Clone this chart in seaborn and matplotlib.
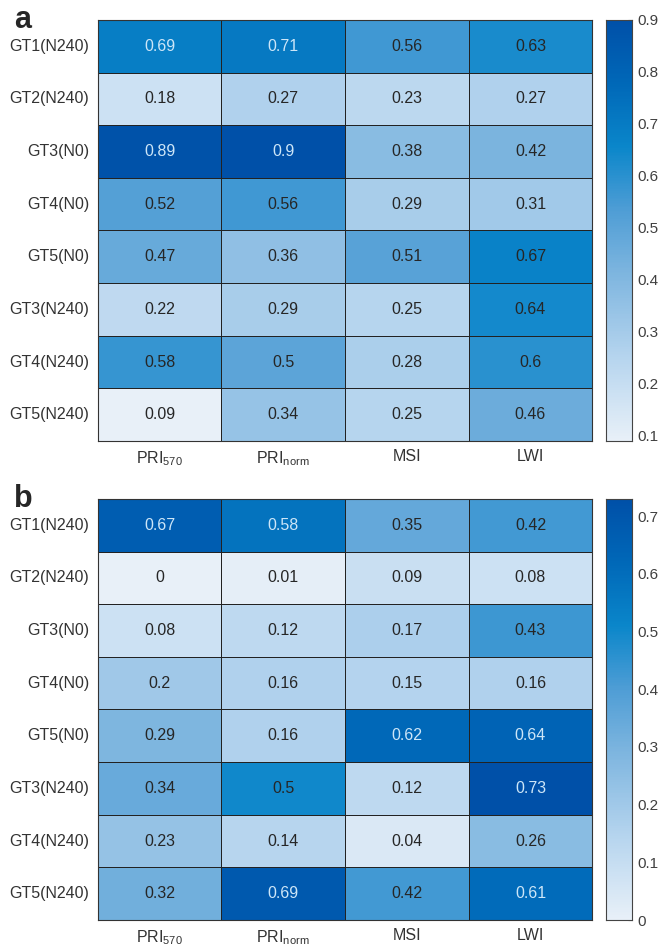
import numpy as np
import pandas as pd
import matplotlib
matplotlib.use("Agg")
import matplotlib.pyplot as plt
import seaborn as sns
from matplotlib.colors import LinearSegmentedColormap

# row / column labels
rows = ["GT1(N240)", "GT2(N240)", "GT3(N0)", "GT4(N0)",
        "GT5(N0)", "GT3(N240)", "GT4(N240)", "GT5(N240)"]
cols = ["PRI$_{570}$", "PRI$_{norm}$", "MSI", "LWI"]

# panel a values
pri570_a = [0.69, 0.18, 0.89, 0.52, 0.47, 0.22, 0.58, 0.09]
prinorm_a = [0.71, 0.27, 0.9, 0.56, 0.36, 0.29, 0.5, 0.34]
msi_a = [0.56, 0.23, 0.38, 0.29, 0.51, 0.25, 0.28, 0.25]
lwi_a = [0.63, 0.27, 0.42, 0.31, 0.67, 0.64, 0.6, 0.46]

# panel b values
pri570_b = [0.67, 0, 0.08, 0.2, 0.29, 0.34, 0.23, 0.32]
prinorm_b = [0.58, 0.01, 0.12, 0.16, 0.16, 0.5, 0.14, 0.69]
msi_b = [0.35, 0.09, 0.17, 0.15, 0.62, 0.12, 0.04, 0.42]
lwi_b = [0.42, 0.08, 0.43, 0.16, 0.64, 0.73, 0.26, 0.61]

ticks_a = [0.1, 0.2, 0.3, 0.4, 0.5, 0.6, 0.7, 0.8, 0.9]
ticks_b = [0, 0.1, 0.2, 0.3, 0.4, 0.5, 0.6, 0.7]

sns.set_style("white")
plt.rcParams["font.family"] = ["Liberation Sans", "DejaVu Sans"]
plt.rcParams["mathtext.default"] = "regular"

# matlab-ish blue map
blues = LinearSegmentedColormap.from_list("mblue", [
    (0.0, "#E8F0F8"),
    (0.2, "#B5D4EE"),
    (0.4, "#7DB5DF"),
    (0.55, "#4E9DD5"),
    (0.7, "#0A86CA"),
    (0.85, "#0068B8"),
    (1.0, "#0050A8"),
])

fig = plt.figure(figsize=(6.61, 9.47), dpi=100)
ax_a = fig.add_axes([0.148, 0.5343, 0.748, 0.4446])
cax_a = fig.add_axes([0.9168, 0.5343, 0.0393, 0.4446])
ax_b = fig.add_axes([0.148, 0.0285, 0.748, 0.4446])
cax_b = fig.add_axes([0.9168, 0.0285, 0.0393, 0.4446])


def draw(ax, cax, data, ticks, letter):
    df = pd.DataFrame(np.array(data).T, index=rows, columns=cols)
    vmin, vmax = df.values.min(), df.values.max()
    sns.heatmap(df, ax=ax, cbar_ax=cax, cmap=blues, vmin=vmin, vmax=vmax,
                annot=True, fmt="g", annot_kws={"fontsize": 11.5},
                linewidths=0.6, linecolor="#222222")
    # recolor annotations like matlab does
    for t, v in zip(ax.texts, df.values.flatten()):
        frac = (v - vmin) / (vmax - vmin)
        t.set_color("#CDE6F8" if frac > 0.73 else "#262626")
    ax.tick_params(length=0, labelsize=11.5, colors="#333333", pad=6)
    ax.set_yticklabels(rows, rotation=0)
    ax.set_xticklabels(cols, rotation=0)
    for s in ax.spines.values():
        s.set_visible(True)
        s.set_color("#333333")
        s.set_linewidth(0.8)
    cax.set_yticks(ticks)
    cax.set_yticklabels([f"{t:g}" for t in ticks])
    cax.tick_params(direction="in", length=3, width=0.8, labelsize=11,
                    colors="#404040", pad=4)
    for s in cax.spines.values():
        s.set_visible(True)
        s.set_color("#444444")
    ax.text(-0.17, 1.0, letter, transform=ax.transAxes, fontsize=22,
            fontweight="bold", va="center", ha="left")


draw(ax_a, cax_a, [pri570_a, prinorm_a, msi_a, lwi_a], ticks_a, "a")
draw(ax_b, cax_b, [pri570_b, prinorm_b, msi_b, lwi_b], ticks_b, "b")

fig.savefig("out.png", dpi=100)
